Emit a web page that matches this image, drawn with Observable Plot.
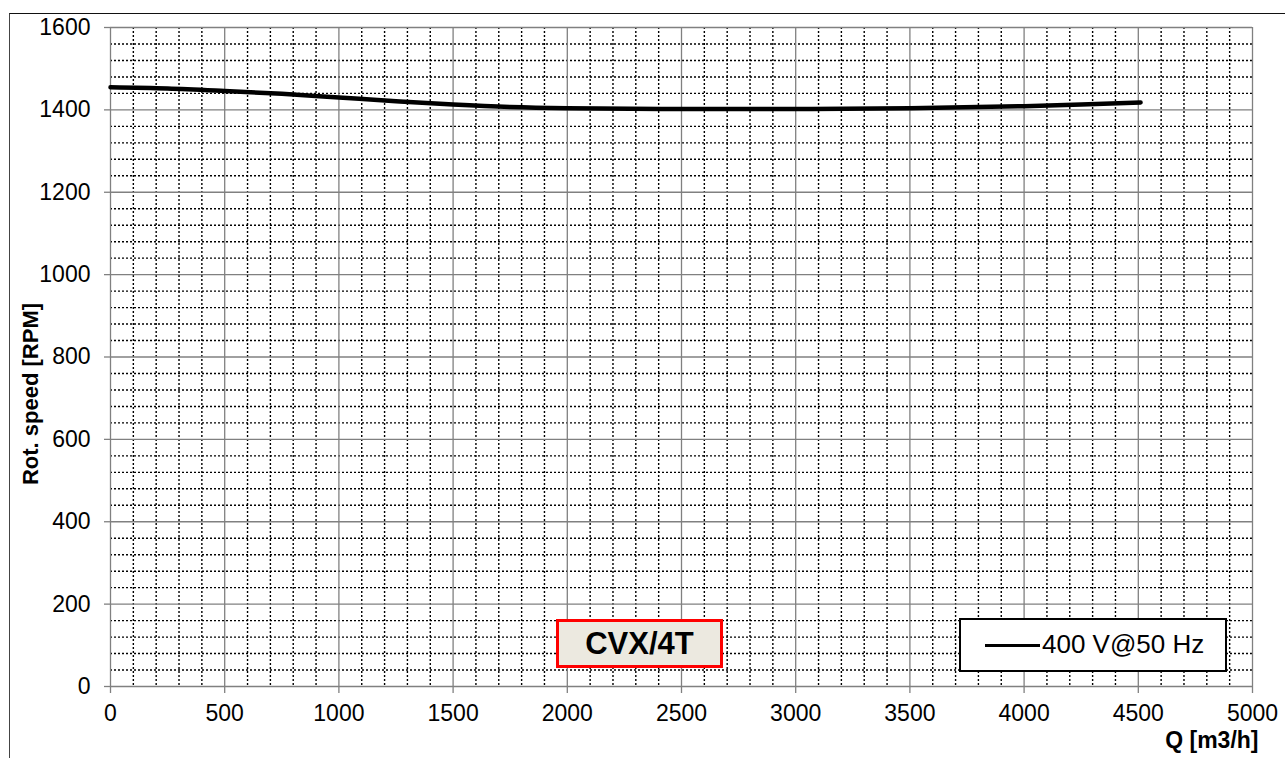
<!DOCTYPE html>
<html>
<head>
<meta charset="utf-8">
<script src="https://cdn.jsdelivr.net/npm/d3@7"></script>
<script src="https://cdn.jsdelivr.net/npm/@observablehq/plot@0.6"></script>
<style>
  html, body { margin: 0; padding: 0; background: #fff; overflow: hidden; }
  body { width: 1285px; height: 758px; position: relative; font-family: "Liberation Sans", Arial, sans-serif; }
  #frame { position: absolute; left: 9px; top: 13px; width: 1400px; height: 900px; border-left: 1.5px solid #444; border-top: 1.5px solid #111; box-sizing: border-box; }
  #chart { position: absolute; left: 0; top: 0; }
  #legend { position: absolute; left: 959px; top: 618px; width: 268px; height: 54px; box-sizing: border-box; border: 2.5px solid #000; background: #fff; }
  #legend .sw { position: absolute; left: 24px; top: 24px; width: 55px; height: 0; border-top: 3.5px solid #000; }
  #legend .lbl { position: absolute; left: 81px; top: 9px; font-size: 26px; line-height: 30px; color: #000; white-space: nowrap; }
  #tag { position: absolute; left: 556px; top: 619px; width: 167px; height: 49px; box-sizing: border-box; border: 3px solid #ff0000; background: #ece9e0; text-align: center; font-weight: bold; font-size: 31px; line-height: 43px; color: #000; }
</style>
</head>
<body>
<div id="frame"></div>
<div id="chart"></div>
<div id="legend"><div class="sw"></div><div class="lbl"></div></div>
<div id="tag"></div>
<script>
// ---- data ----
const seriesName = "400 V@50 Hz";
const tagText = "CVX/4T";
const q = [0, 250, 500, 750, 1000, 1250, 1500, 1750, 2000, 2500, 3000, 3500, 4000, 4250, 4510];
const rpm = [1455, 1452, 1446, 1439, 1430, 1421, 1413, 1407, 1404, 1402, 1402, 1404, 1409, 1413, 1418];
const xTicks = [0, 500, 1000, 1500, 2000, 2500, 3000, 3500, 4000, 4500, 5000];
const yTicks = [0, 200, 400, 600, 800, 1000, 1200, 1400, 1600];
const xTitle = "Q [m3/h]";
const yTitle = "Rot. speed [RPM]";

const data = q.map((v, i) => ({q: v, rpm: rpm[i]}));
const xMinor = d3.range(100, 5000, 100).filter(v => v % 500 !== 0);
const yMinor = d3.range(40, 1600, 40).filter(v => v % 200 !== 0);
const fmt = d => String(d);

const chart = Plot.plot({
  width: 1285,
  height: 758,
  marginLeft: 110,
  marginRight: 33,
  marginTop: 27,
  marginBottom: 72,
  style: {fontFamily: "'Liberation Sans', Arial, sans-serif", background: "transparent"},
  x: {domain: [0, 5000]},
  y: {domain: [0, 1600]},
  marks: [
    Plot.ruleX(xMinor, {stroke: "#000", strokeWidth: 1.4, strokeDasharray: "2,2"}),
    Plot.ruleY(yMinor, {stroke: "#000", strokeWidth: 1.4, strokeDasharray: "2,2"}),
    Plot.ruleX(xTicks, {stroke: "#808080", strokeWidth: 1.3}),
    Plot.ruleY(yTicks, {stroke: "#808080", strokeWidth: 1.3}),
    Plot.axisX(xTicks, {tickSize: 7, tickPadding: 11, fontSize: 23, tickFormat: fmt, stroke: "#808080", fill: "#000", label: null, strokeWidth: 1.3}),
    Plot.axisY(yTicks, {tickSize: 6, tickPadding: 14, fontSize: 23, tickFormat: fmt, stroke: "#808080", fill: "#000", label: null, strokeWidth: 1.3}),
    Plot.line(data, {x: "q", y: "rpm", stroke: "#000", strokeWidth: 4.5, curve: "monotone-x"}),
    Plot.text([yTitle], {frameAnchor: "left", textAnchor: "middle", rotate: -90, dx: -80, dy: 37, fontSize: 22, fontWeight: "bold", fill: "#000"}),
    Plot.text([xTitle], {frameAnchor: "bottom-right", textAnchor: "end", dx: 6, dy: 61, fontSize: 23, fontWeight: "bold", fill: "#000"})
  ]
});
document.getElementById("chart").appendChild(chart);
document.querySelector("#legend .lbl").textContent = seriesName;
document.getElementById("tag").textContent = tagText;
</script>
</body>
</html>
